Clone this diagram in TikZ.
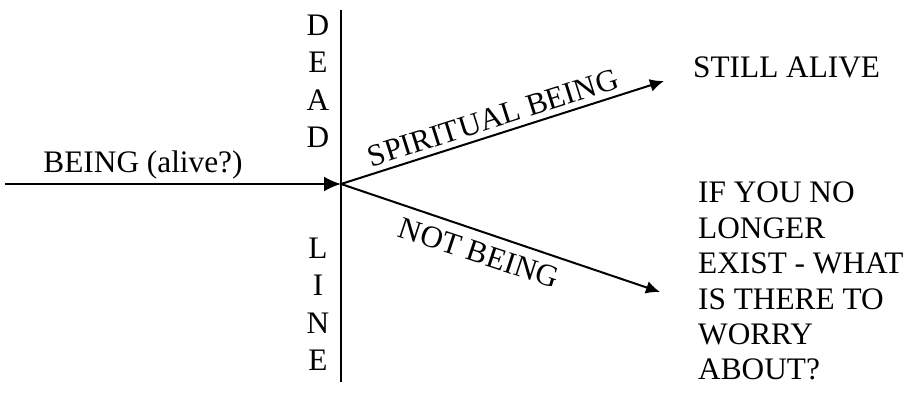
\documentclass[tikz,border=0pt]{standalone}
\usepackage{fontspec}
\setmainfont{Liberation Serif}
\usetikzlibrary{arrows.meta}
\begin{document}
\begin{tikzpicture}[x=1pt,y=-1pt,
  txt/.style={inner sep=0pt,font=\fontsize{31.3}{37.3}\selectfont},
  lbl/.style={inner sep=0pt,font=\fontsize{31}{34}\selectfont},
  conn/.style={line width=2pt},
  bigarrow/.style={conn,-{Latex[length=17pt,width=15pt]}},
  smallarrow/.style={conn,-{Latex[length=14pt,width=13pt]}}]
\useasboundingbox (0,0) rectangle (909,395);
\coordinate (top) at (341,10);
\coordinate (bot) at (341,382);
\coordinate (c) at (341,184);
\coordinate (s) at (5,184);
\coordinate (u) at (664,81);
\coordinate (l) at (660,292);
\draw[conn] (top) -- (bot);
\draw[bigarrow] (s) -- (c);
\draw[smallarrow] (c) -- (u);
\draw[smallarrow] (c) -- (l);
\node[txt,anchor=base] (being) at (143,173) {BEING (alive?)};
\node[txt,anchor=north,align=center] (dead) at (318,15) {D\\E\\A\\D};
\node[txt,anchor=north,align=center] (line) at (318,238) {L\\I\\N\\E};
\node[txt,anchor=base west] (still) at (693,78) {STILL ALIVE};
\node[txt,anchor=north west,align=left,font=\fontsize{31.3}{35.4}\selectfont] (ifyou) at (698,182)
  {IF YOU NO\\LONGER\\EXIST - WHAT\\IS THERE TO\\WORRY\\ABOUT?};
\node[lbl,rotate=17.6] (spirit) at (493,118) {SPIRITUAL BEING};
\node[lbl,rotate=-18.3] (notb) at (479,253) {NOT BEING};
\end{tikzpicture}
\end{document}
